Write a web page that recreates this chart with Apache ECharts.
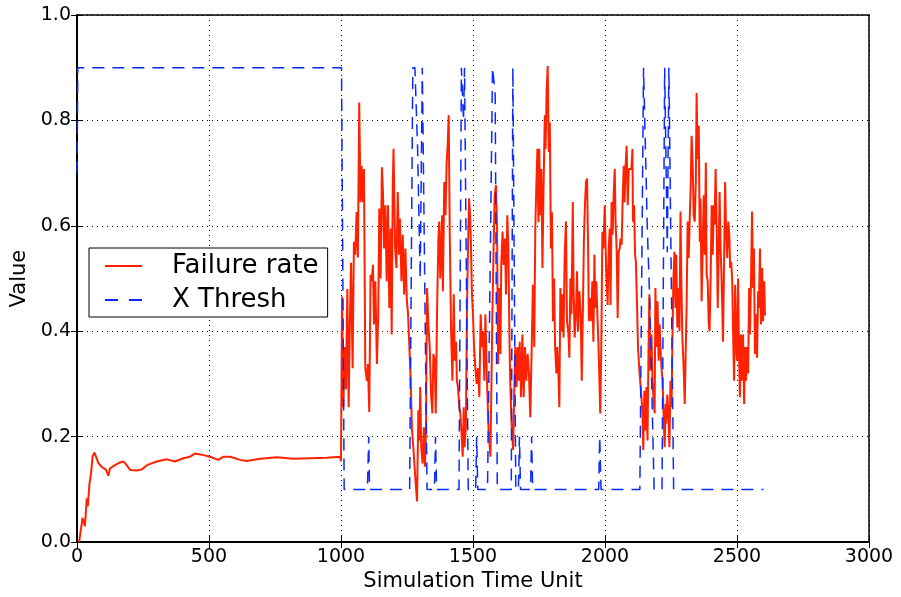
<!DOCTYPE html>
<html>
<head>
<meta charset="utf-8">
<script src="https://cdn.jsdelivr.net/npm/echarts@6/dist/echarts.min.js"></script>
<style>
html,body{margin:0;padding:0;background:#fff;}
#chart{width:901px;height:597px;}
</style>
</head>
<body>
<div id="chart"></div>
<script>
// ---- data ----
const xTicks = [0, 500, 1000, 1500, 2000, 2500, 3000];
const yTicks = [0.0, 0.2, 0.4, 0.6, 0.8, 1.0];

const failureT = [8,21,30,37,41,47,53,59,66,72,81,93,100,110,119,125,138,150,163,176,188,201,227,246,265,302,340,371,403,428,447,479,504,535,555,580,618,643,694,757,820,883,946,997,
1000,1004,1009,1014,1019,1024,1029,1034,1038,1044,1049,1054,1059,1064,1069,1074,1078,1083,1087,1092,1098,1102,1107,1112,1117,1121,1125,1130,1136,1141,1145,1150,1155,1159,1163,1168,1173,1178,1183,1188,1192,1196,1199,1205,1210,1215,1220,1223,1229,1234,1239,1244,1249,1254,1259,1264,1269,1274,1282,1288,1293,1297,1300,1304,1309,1314,1318,1322,1326,1331,1336,1341,1346,1350,1355,1359,1364,1369,1372,
1376,1383,1386,1391,1396,1400,1404,1408,1412,1417,1422,1427,1431,1436,1439,1443,1448,1452,1456,1461,1465,1468,1473,1477,1481,1485,1489,1492,1496,1500,1504,1509,1514,1519,1524,1529,1534,1538,1543,1547,1553,1559,1566,1569,1573,1578,1582,1587,1591,1595,1599,1604,1607,1612,1616,1621,1625,1630,1634,1638,1641,1646,1652,1657,1660,1665,1669,1673,1677,1682,1687,1692,1697,1702,1707,1712,
1717,1722,1727,1732,1736,1740,1744,1748,1751,1755,1759,1763,1767,1772,1775,1779,1783,1787,1791,1795,1799,1803,1807,1811,1816,1819,1823,1827,1831,1836,1840,1843,1847,1852,1856,1861,1865,1869,1873,1878,1881,1885,1890,1894,1898,1903,1908,1912,1916,1920,1924,1928,1932,1936,1939,1943,1948,1952,1956,1960,1963,1967,1971,1975,1979,1982,1986,1990,1994,1999,2003,2006,2010,2014,2018,2021,2025,2029,2033,2037,2040,2044,2048,2052,2056,2059,2063,2067,2071,2074,2078,2082,2086,2090,
2100,2104,2106,2110,2114,2117,2121,2125,2131,2138,2142,2145,2149,2153,2157,2161,2165,2168,2172,2176,2180,2184,2188,2191,2195,2199,2203,2207,2211,2214,2218,2222,2226,2230,2232,2236,2240,2244,2248,2252,2255,2259,2263,2267,2270,2274,2278,2282,2286,2290,2293,2298,2302,2306,2309,2313,2317,2321,2325,2328,2332,2336,2340,2344,2347,2351,2355,2359,2362,2366,2370,2374,2378,2382,2385,2389,2393,2396,2400,2404,2408,2412,2415,2419,2423,2427,2431,2434,2438,2442,2447,2451,2455,2459,2463,2467,2471,2474,2478,2482,2485,2489,2493,2497,2500,2504,2508,2511,2515,2519,2523,2527,2530,2534,2538,2542,2546,2549,2553,2557,2561,2564,2568,2572,2576,2580,2583,2587,2591,2595,2599,2603,2606];

const failureV = [0,0.046,0.03,0.083,0.068,0.11,0.13,0.162,0.17,0.162,0.15,0.143,0.146,0.137,0.126,0.14,0.144,0.148,0.151,0.153,0.146,0.137,0.136,0.138,0.146,0.153,0.157,0.153,0.159,0.162,0.168,0.165,0.162,0.156,0.162,0.162,0.156,0.154,0.158,0.161,0.158,0.159,0.16,0.162,
0.153,0.466,0.256,0.37,0.29,0.48,0.256,0.43,0.53,0.33,0.57,0.545,0.626,0.54,0.834,0.645,0.714,0.645,0.708,0.33,0.306,0.338,0.247,0.507,0.495,0.526,0.413,0.495,0.338,0.432,0.633,0.50,0.711,0.664,0.557,0.639,0.495,0.639,0.444,0.595,0.394,0.677,0.746,0.557,0.52,0.664,0.545,0.614,0.495,0.583,0.47,0.557,0.463,0.432,0.37,0.306,0.212,0.18,0.118,0.077,0.25,0.193,0.294,0.18,0.149,0.218,0.143,0.218,0.482,0.413,0.37,0.281,0.244,0.357,0.344,0.244,0.444,0.576,0.608,
0.50,0.62,0.476,0.683,0.62,0.72,0.752,0.81,0.583,0.40,0.306,0.47,0.344,0.38,0.306,0.294,0.256,0.244,0.212,0.162,0.256,0.18,0.218,0.432,0.557,0.652,0.62,0.57,0.47,0.432,0.37,0.33,0.30,0.33,0.275,0.432,0.37,0.40,0.306,0.432,0.306,0.212,0.162,0.27,0.42,0.557,0.658,0.677,0.60,0.338,0.482,0.357,0.526,0.589,0.526,0.576,0.47,0.62,0.557,0.388,0.306,0.225,0.175,0.306,0.37,0.294,0.37,0.306,0.38,0.275,0.394,0.275,0.37,0.306,0.357,0.32,
0.237,0.237,0.488,0.37,0.595,0.677,0.746,0.607,0.746,0.62,0.708,0.52,0.664,0.81,0.746,0.859,0.903,0.74,0.796,0.557,0.626,0.419,0.50,0.37,0.32,0.37,0.33,0.256,0.482,0.40,0.47,0.388,0.539,0.608,0.419,0.40,0.35,0.50,0.432,0.645,0.482,0.388,0.432,0.514,0.40,0.476,0.432,0.306,0.432,0.57,0.639,0.683,0.69,0.557,0.419,0.463,0.419,0.495,0.38,0.545,0.444,0.495,0.432,0.38,0.306,0.244,0.37,0.589,0.557,0.639,0.545,0.495,0.45,0.557,0.595,0.45,0.645,0.583,0.664,0.708,0.607,0.557,0.425,0.551,0.557,0.576,0.564,0.652,0.714,0.645,0.714,0.752,0.639,0.708,
0.708,0.746,0.608,0.639,0.545,0.532,0.457,0.37,0.32,0.275,0.244,0.175,0.287,0.212,0.294,0.193,0.37,0.47,0.325,0.394,0.306,0.27,0.244,0.482,0.37,0.457,0.344,0.413,0.357,0.33,0.306,0.244,0.18,0.262,0.225,0.28,0.244,0.18,0.306,0.256,0.37,0.495,0.551,0.444,0.545,0.407,0.482,0.40,0.627,0.47,0.388,0.33,0.262,0.37,0.444,0.608,0.539,0.614,0.683,0.771,0.72,0.62,0.608,0.683,0.852,0.727,0.79,0.57,0.652,0.457,0.457,0.658,0.545,0.72,0.507,0.495,0.413,0.40,0.495,0.639,0.545,0.639,0.602,0.708,0.602,0.444,0.557,0.664,0.557,0.495,0.38,0.532,0.683,0.583,0.539,0.608,0.583,0.52,0.532,0.495,0.40,0.306,0.488,0.37,0.344,0.50,0.35,0.275,0.394,0.306,0.394,0.262,0.37,0.306,0.37,0.32,0.482,0.394,0.495,0.627,0.482,0.557,0.357,0.432,0.35,0.476,0.444,0.557,0.413,0.52,0.419,0.495,0.43];

const threshT = [0,3,1002,1012,1100,1105,1108,1260,1272,1280,1290,1300,1308,1314,1326,1354,1358,1362,1447,1456,1460,1464,1468,1472,1482,1510,1514,1518,1555,1574,1580,1584,1592,1645,1651,1656,1662,1672,1676,1680,1718,1722,1726,1976,1980,1985,2132,2146,2150,2160,2170,2186,2216,2226,2230,2236,2242,2248,2260,2600];
const threshV = [0.7,0.9,0.9,0.1,0.1,0.2,0.1,0.1,0.9,0.9,0.75,0.5,0.9,0.9,0.1,0.1,0.2,0.1,0.1,0.9,0.9,0.8,0.9,0.9,0.1,0.1,0.2,0.1,0.1,0.9,0.9,0.85,0.1,0.1,0.9,0.9,0.1,0.1,0.2,0.1,0.1,0.2,0.1,0.1,0.2,0.1,0.1,0.9,0.9,0.6,0.45,0.1,0.1,0.9,0.9,0.55,0.9,0.9,0.1,0.1];

const seriesNames = ['Failure rate', 'X Thresh'];
const axisNames = {x: 'Simulation Time Unit', y: 'Value'};

// ---- chart ----
const zip = (a, b) => a.map((t, i) => [t, b[i]]);
const FONT = 'DejaVu Sans';
const RED = '#ff2200';
const BLUE = '#0a2aff';
const chart = echarts.init(document.getElementById('chart'), null, {renderer: 'canvas'});

const gridLine = {show: true, lineStyle: {color: '#000', width: 1, type: [1, 4]}};
const tick = {show: true, inside: true, length: 6, lineStyle: {color: '#000', width: 1}};
const axisLine = {show: true, lineStyle: {color: '#000', width: 1.5}};

chart.setOption({
  animation: false,
  backgroundColor: '#fff',
  grid: {left: 77, right: 32, top: 15, bottom: 51, show: true, borderColor: '#000', borderWidth: 1.5, backgroundColor: 'transparent'},
  legend: {
    data: [
      {name: seriesNames[0], icon: 'path://M0,0h37v2h-37z', itemStyle: {color: RED}},
      {name: seriesNames[1], icon: 'path://M0,0h12v2h-12z M22,0h12v2h-12z', itemStyle: {color: BLUE}}
    ],
    orient: 'vertical',
    left: 89, top: 248,
    padding: [5, 9, 4, 16],
    itemWidth: 37, itemHeight: 24, itemGap: 8,
    borderColor: '#000', borderWidth: 1, backgroundColor: '#fff',
    textStyle: {fontFamily: FONT, fontSize: 26, lineHeight: 24, color: '#000', padding: [0, 0, 0, 25]}
  },
  xAxis: [{
    type: 'value', min: xTicks[0], max: xTicks[xTicks.length - 1], interval: 500,
    name: axisNames.x, nameLocation: 'middle', nameGap: 27,
    nameTextStyle: {fontFamily: FONT, fontSize: 21, color: '#000'},
    axisLine: axisLine, axisTick: tick, splitLine: gridLine,
    axisLabel: {fontFamily: FONT, fontSize: 19, color: '#000', margin: 5, formatter: v => String(v)}
  }, {
    type: 'value', position: 'top', min: 0, max: 3000, interval: 500,
    axisLine: axisLine, axisTick: tick, splitLine: {show: false}, axisLabel: {show: false}
  }],
  yAxis: [{
    type: 'value', min: yTicks[0], max: yTicks[yTicks.length - 1], interval: 0.2,
    name: axisNames.y, nameLocation: 'middle', nameGap: 40, nameRotate: 90,
    nameTextStyle: {fontFamily: FONT, fontSize: 21, color: '#000'},
    axisLine: axisLine, axisTick: tick, splitLine: gridLine,
    axisLabel: {fontFamily: FONT, fontSize: 19, color: '#000', margin: 6, formatter: v => v.toFixed(1)}
  }, {
    type: 'value', position: 'right', min: 0, max: 1, interval: 0.2,
    axisLine: axisLine, axisTick: tick, splitLine: {show: false}, axisLabel: {show: false}
  }],
  series: [{
    name: seriesNames[0], type: 'line', symbol: 'none', z: 3,
    data: zip(failureT, failureV),
    lineStyle: {color: RED, width: 2},
    itemStyle: {color: RED}
  }, {
    name: seriesNames[1], type: 'line', symbol: 'none', z: 4,
    data: zip(threshT, threshV),
    lineStyle: {color: BLUE, width: 1.5, type: [12, 8]},
    itemStyle: {color: BLUE}
  }]
});
</script>
</body>
</html>
